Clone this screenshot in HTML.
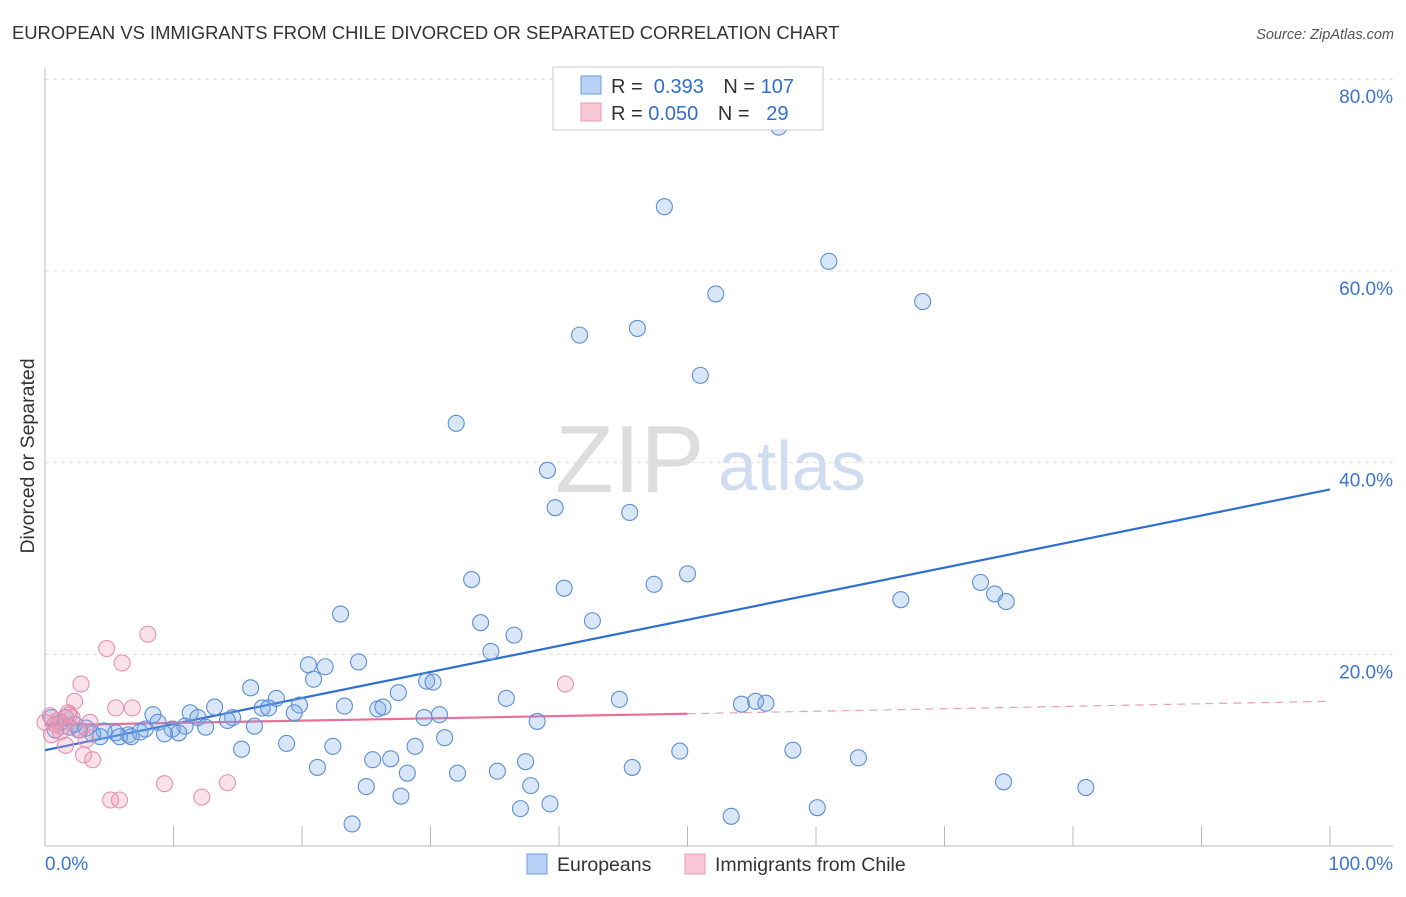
<!DOCTYPE html>
<html><head><meta charset="utf-8"><style>
body{margin:0;background:#fff;font-family:"Liberation Sans",sans-serif;}
svg text{font-family:"Liberation Sans",sans-serif;}
</style></head><body>
<svg id="chart" width="1406" height="892" xmlns="http://www.w3.org/2000/svg">
<text x="12" y="39" font-size="18.4" fill="#333">EUROPEAN VS IMMIGRANTS FROM CHILE DIVORCED OR SEPARATED CORRELATION CHART</text>
<text x="1394" y="39" font-size="14.5" fill="#555" font-style="italic" text-anchor="end">Source: ZipAtlas.com</text>
<text x="34" y="456" font-size="19.5" fill="#333" text-anchor="middle" transform="rotate(-90 34 456)">Divorced or Separated</text>
<g id="grid"></g>
<g id="axes"></g>
<text x="555" y="492" font-size="96" fill="#ddd" font-family="Liberation Serif">ZIP</text>
<text x="718" y="490" font-size="70" fill="#cfdcf2">atlas</text>
<g id="trend"></g>
<g id="pts"></g>
<g>
<rect x="553" y="67" width="270" height="63" fill="#fff" stroke="#ccc"/>
<rect x="581" y="76" width="20" height="18" fill="#b8d1f5" stroke="#6a9ee0"/>
<rect x="581" y="103" width="20" height="18" fill="#f9c6d6" stroke="#ec9ab6"/>
<text x="611" y="93" font-size="20" fill="#333">R = <tspan fill="#2f6fd0">&#160;0.393</tspan>   <tspan dx="14">N = </tspan><tspan fill="#2f6fd0">107</tspan></text>
<text x="611" y="120" font-size="20" fill="#333">R = <tspan fill="#2f6fd0">0.050</tspan>   <tspan dx="14">N = </tspan><tspan fill="#2f6fd0">&#160;&#160;29</tspan></text>
</g>
<g>
<rect x="527" y="854" width="20" height="20" fill="#b8d1f5" stroke="#6a9ee0"/>
<text x="557" y="871" font-size="19.5" fill="#333">Europeans</text>
<rect x="685" y="854" width="20" height="20" fill="#f9c6d6" stroke="#ec9ab6"/>
<text x="715" y="871" font-size="19.5" fill="#333">Immigrants from Chile</text>
</g>
</svg>
<script>
const yTicks=[20,40,60,80];
const yTickLabels=["20.0%","40.0%","60.0%","80.0%"];
const xTickLabels=["0.0%","100.0%"];
const blueX=[57.1,48.2,61.0,52.2,68.3,41.6,46.1,51.0,32.0,39.1,39.7,45.5,33.2,40.4,47.4,50.0,66.6,72.8,73.9,74.8,23.0,33.9,36.5,42.6,34.7,20.5,21.8,24.4,20.9,29.7,30.2,16.0,18.0,27.5,35.9,44.7,54.2,55.3,56.1,8.4,11.3,13.2,16.9,17.4,19.8,23.3,25.9,26.3,19.4,14.6,14.2,11.9,30.7,29.5,38.3,8.8,10.9,12.5,9.9,7.8,9.3,10.4,6.5,5.5,4.6,3.7,2.7,1.9,1.2,0.5,0.8,1.6,2.3,3.2,4.3,5.8,6.7,7.4,16.3,31.1,18.8,15.3,22.4,28.8,49.4,58.2,63.3,25.5,26.9,37.4,21.2,45.7,28.2,32.1,35.2,74.6,81.0,25.0,37.8,27.7,39.3,37.0,53.4,60.1,23.9];
const blueY=[75.0,66.7,61.0,57.6,56.8,53.3,54.0,49.1,44.1,39.2,35.3,34.8,27.8,26.9,27.3,28.4,25.7,27.5,26.3,25.5,24.2,23.3,22.0,23.5,20.3,18.9,18.7,19.2,17.4,17.2,17.1,16.5,15.4,16.0,15.4,15.3,14.8,15.1,14.9,13.7,13.9,14.5,14.4,14.4,14.7,14.6,14.3,14.5,13.9,13.4,13.1,13.4,13.7,13.4,13.0,12.9,12.5,12.4,12.2,12.2,11.7,11.8,11.6,11.8,12.0,11.7,12.1,12.4,12.9,13.4,12.1,13.4,12.7,12.3,11.4,11.4,11.4,11.9,12.5,11.3,10.7,10.1,10.4,10.4,9.9,10.0,9.2,9.0,9.1,8.8,8.2,8.2,7.6,7.6,7.8,6.7,6.1,6.2,6.3,5.2,4.4,3.9,3.1,4.0,2.3];
const pinkX=[8.0,4.8,6.0,2.8,40.5,2.3,5.5,6.8,1.8,0.4,1.0,1.3,2.1,0.5,1.6,3.2,3.0,3.7,9.3,14.2,12.2,5.1,5.8,0.8,2.6,0.0,1.2,1.9,3.5];
const pinkY=[22.1,20.6,19.1,16.9,16.9,15.1,14.4,14.4,13.9,13.6,13.1,12.5,13.4,11.6,10.5,11.1,9.5,9.0,6.5,6.6,5.1,4.8,4.8,12.7,12.1,12.9,11.9,13.7,12.9];
const blueTrend=[10.0,37.2];
const pinkTrend=[12.6,13.8,15.1];
const NS="http://www.w3.org/2000/svg";
const X=v=>45+v*12.85, Y=v=>846-v*9.585;
function mk(t,a,p){const e=document.createElementNS(NS,t);for(const k in a)e.setAttribute(k,a[k]);p.appendChild(e);return e;}
const grid=document.getElementById('grid'),axes=document.getElementById('axes');
yTicks.forEach((t,i)=>{
 const l=mk('line',{x1:45,x2:1393,y1:Y(t),y2:Y(t),stroke:'#ddd','stroke-dasharray':'4,4'},grid);
 
 
 const tx=mk('text',{x:1393,y:Y(t)+24,'font-size':19,fill:'#3a75d0','text-anchor':'end'},axes);
 tx.textContent=yTickLabels[i];
 
 
});
mk('line',{x1:45,x2:45,y1:68,y2:846,stroke:'#bbb'},axes);
mk('line',{x1:45,x2:1393,y1:846,y2:846,stroke:'#bbb'},axes);
for(let i=0;i<=10;i++){const l=mk('line',{x1:X(i*10),x2:X(i*10),y1:826,y2:846,stroke:'#bbb'},axes);
 
 }
const t0=mk('text',{x:45,y:870,'font-size':19,fill:'#3a75d0'},axes);t0.textContent=xTickLabels[0];


const t1=mk('text',{x:1393,y:870,'font-size':19,fill:'#3a75d0','text-anchor':'end'},axes);t1.textContent=xTickLabels[1];


const pts=document.getElementById('pts');
blueX.forEach((x,i)=>{const c=mk('circle',{cx:X(x),cy:Y(blueY[i]),r:8,fill:'rgba(120,165,230,0.28)',stroke:'#5b8fd8','stroke-width':1.1},pts);
 
 });
pinkX.forEach((x,i)=>{const c=mk('circle',{cx:X(x),cy:Y(pinkY[i]),r:8,fill:'rgba(240,150,180,0.28)',stroke:'#e890b0','stroke-width':1.1},pts);
 
 });
const tr=document.getElementById('trend');
const b=mk('line',{x1:X(0),y1:Y(blueTrend[0]),x2:X(100),y2:Y(blueTrend[1]),stroke:'#2f6fd0','stroke-width':2.2},tr);


const p1=mk('line',{x1:X(0),y1:Y(pinkTrend[0]),x2:X(50),y2:Y(pinkTrend[1]),stroke:'#e8709a','stroke-width':2.2},tr);


const p2=mk('line',{x1:X(50),y1:Y(pinkTrend[1]),x2:X(100),y2:Y(pinkTrend[2]),stroke:'#e8a0b8','stroke-width':1.2,'stroke-dasharray':'8,6'},tr);


</script>
</body></html>
